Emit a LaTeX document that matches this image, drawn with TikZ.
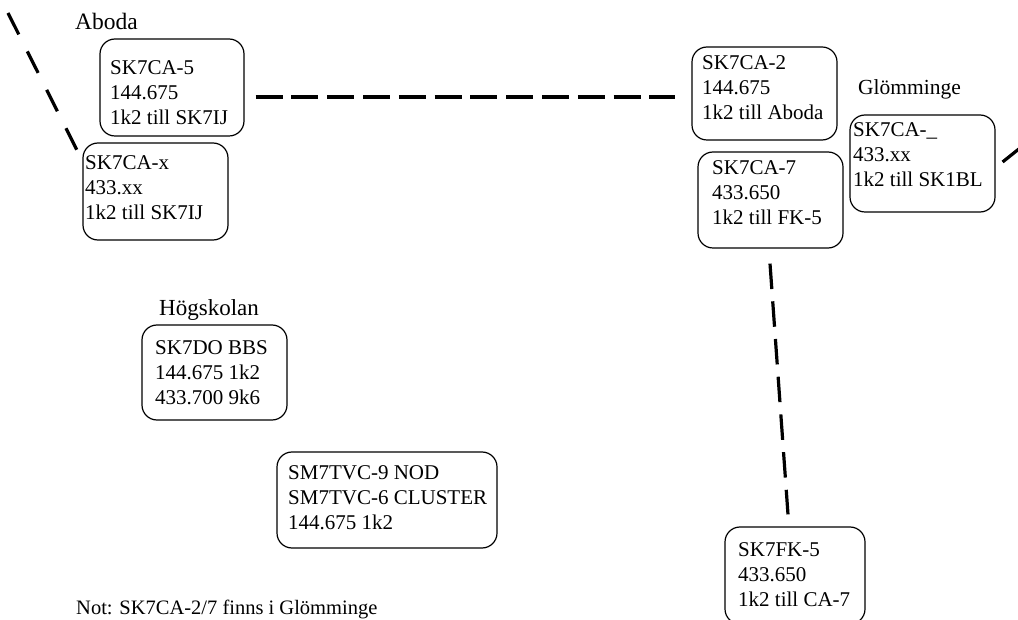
\documentclass[tikz,border=0pt]{standalone}
\usepackage{fontspec}
\setmainfont{Liberation Serif}
\begin{document}
\begin{tikzpicture}[x=1pt,y=-1pt,
  bx/.style={draw, line width=1.2pt, rounded corners=15pt, inner sep=0pt},
  tx/.style={anchor=north west, inner sep=0pt, align=left, font=\fontsize{21}{25}\selectfont},
  lbl/.style={anchor=base west, inner sep=0pt, font=\fontsize{23}{27}\selectfont},
  dln/.style={line width=3.2pt}
]
\useasboundingbox (0,0) rectangle (1018,620);
\clip (0,0) rectangle (1018,620);
\fill[white] (0,0) rectangle (1018,620);

% boxes
\node[bx, minimum width=144pt, minimum height=97pt] (ca5) at (172,87.5) {};
\node[bx, minimum width=145pt, minimum height=97pt] (cax) at (155.5,191.5) {};
\node[bx, minimum width=145pt, minimum height=93pt] (ca2) at (764.5,93.5) {};
\node[bx, minimum width=145pt, minimum height=96pt] (ca7) at (770.5,200) {};
\node[bx, minimum width=145pt, minimum height=97pt] (cau) at (922.5,163.5) {};
\node[bx, minimum width=145pt, minimum height=95pt] (do) at (214.5,372.5) {};
\node[bx, minimum width=220pt, minimum height=96pt] (tvc) at (387,500) {};
\node[bx, minimum width=140pt, minimum height=97pt] (fk5) at (795,575.5) {};

% box texts
\node[tx] (t1) at (110,58) {\rule{0pt}{16pt}SK7CA-5\\144.675\\1k2 till SK7IJ};
\node[tx] (t2) at (85,153) {\rule{0pt}{16pt}SK7CA-x\\433.xx\\1k2 till SK7IJ};
\node[tx] (t3) at (702,53) {\rule{0pt}{16pt}SK7CA-2\\144.675\\1k2 till Aboda};
\node[tx] (t4) at (712,158) {\rule{0pt}{16pt}SK7CA-7\\433.650\\1k2 till FK-5};
\node[tx] (t5) at (853,120) {\rule{0pt}{16pt}SK7CA-\_\\433.xx\\1k2 till SK1BL};
\node[tx] (t6) at (155,338) {\rule{0pt}{16pt}SK7DO BBS\\144.675 1k2\\433.700 9k6};
\node[tx] (t7) at (288,463) {\rule{0pt}{16pt}SM7TVC-9 NOD\\SM7TVC-6 CLUSTER\\144.675 1k2};
\node[tx] (t8) at (738,540) {\rule{0pt}{16pt}SK7FK-5\\433.650\\1k2 till CA-7};

% labels
\node[lbl, font=\fontsize{23.5}{27}\selectfont] (aboda) at (75,30) {Aboda};
\node[lbl, font=\fontsize{21.5}{26}\selectfont] (glom) at (858,95) {Glömminge};
\node[lbl] (hog) at (159,316) {Högskolan};
\node[anchor=base west, inner sep=0pt, font=\fontsize{20.5}{24}\selectfont] (note) at (76,614) {Not: SK7CA-2/7 finns i Glömminge};

% connectors
\coordinate (tl) at (8,13);
\coordinate (tr) at (1040,132);
\draw[dln, dash pattern=on 27pt off 8.8pt] ([shift={(11,9.5)}]ca5.east) -- ([shift={(-16,3.5)}]ca2.west);
\draw[dln, dash pattern=on 25.5pt off 12.3pt] ([shift={(-0.5,15)}]ca7.south) -- ([shift={(-7,-12)}]fk5.north);
\draw[dln, dash pattern=on 24pt off 19pt] (tl) -- ([shift={(-5,-40.5)}]cax.west);
\draw[dln, dash pattern=on 30pt off 10pt] ([shift={(7,-1.5)}]cau.east) -- (tr);
\end{tikzpicture}
\end{document}
